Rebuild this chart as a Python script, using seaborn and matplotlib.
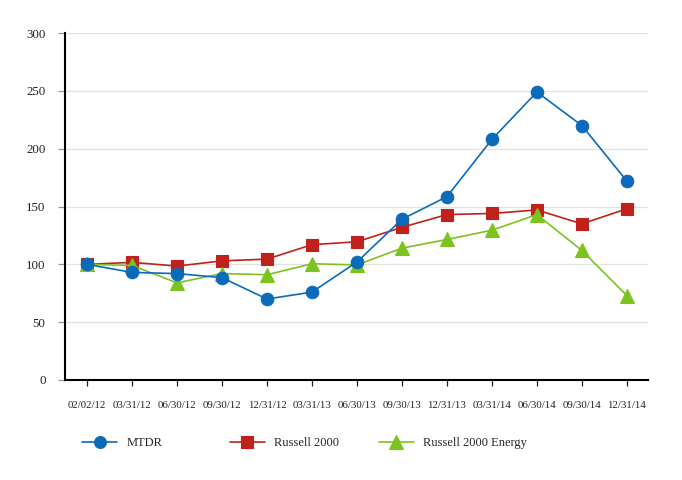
import matplotlib
matplotlib.use("Agg")
import matplotlib.pyplot as plt
import seaborn as sns
import numpy as np
import pandas as pd

dates = ["02/02/12", "03/31/12", "06/30/12", "09/30/12", "12/31/12", "03/31/13",
         "06/30/13", "09/30/13", "12/31/13", "03/31/14", "06/30/14", "09/30/14", "12/31/14"]
mtdr = [100, 93, 92, 88.5, 70, 76, 102, 139, 158.5, 208, 249, 220, 172]
russell = [100, 101.7, 98.5, 103, 104.5, 117, 119.5, 132, 143, 144, 147, 135, 148]
energy = [100, 99, 84, 92, 91, 100.5, 99.5, 114, 121.5, 129.5, 143, 112, 73]
y_ticks = [0, 50, 100, 150, 200, 250, 300]

series = [
    ("Russell 2000", russell, "#C0211B", "s"),
    ("Russell 2000 Energy", energy, "#7DC31F", "^"),
    ("MTDR", mtdr, "#0B6BBA", "o"),
]
legend_order = ["MTDR", "Russell 2000", "Russell 2000 Energy"]

sns.set_style("white")
plt.rcParams["font.family"] = ["Liberation Serif", "DejaVu Serif"]

fig = plt.figure(figsize=(6.82, 4.8), dpi=100)
ax = fig.add_axes([65 / 682, 1 - 380 / 480, (648 - 65) / 682, (380 - 33) / 480])

pos = np.arange(len(dates))
handles = {}
for name, vals, col, mk in series:
    df = pd.DataFrame({"x": pos, "y": vals})
    sns.lineplot(data=df, x="x", y="y", ax=ax, color=col, marker=mk,
                 markersize=9 if mk != "^" else 10, markeredgecolor=col,
                 markeredgewidth=0.8, linewidth=1.2, zorder=3)
    handles[name] = ax.lines[-1]

ax.set_xlim(-0.49, 12.47)
ax.set_ylim(0, 300)
ax.set_yticks(y_ticks)
ax.set_yticklabels([str(v) for v in y_ticks], fontsize=9.3, color="#222222")
ax.set_xticks(pos)
ax.set_xticklabels(dates, fontsize=7.8, color="#222222")
ax.set_xlabel("")
ax.set_ylabel("")

ax.yaxis.grid(True, color="#E2E2E2", linewidth=0.9, zorder=0)
ax.xaxis.grid(False)
ax.set_axisbelow(True)

for s in ["top", "right"]:
    ax.spines[s].set_visible(False)
for s in ["left", "bottom"]:
    ax.spines[s].set_color("black")
    ax.spines[s].set_linewidth(1.5)

ax.tick_params(axis="y", which="major", left=True, length=5, width=0.9,
               color="#999999", pad=9, direction="out")
ax.tick_params(axis="x", which="major", bottom=True, length=4, width=0.9,
               color="#222222", pad=11, direction="out")

anchors = [82, 230, 379]
for name, xa in zip(legend_order, anchors):
    h = handles[name]
    fig.legend([h], [name], loc="center left",
               bbox_to_anchor=(xa / 682, 1 - 443 / 480),
               frameon=False, fontsize=9, borderpad=0, borderaxespad=0,
               handlelength=2.8, handletextpad=0.75, markerscale=0.95)

fig.savefig("out.png", dpi=100)
